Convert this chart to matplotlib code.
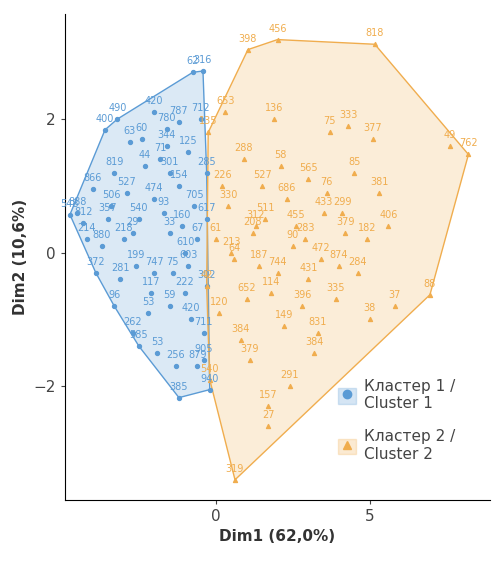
import numpy as np
import matplotlib.pyplot as plt
from matplotlib.lines import Line2D
from matplotlib.patches import Polygon, Patch

# cluster 1 (blue) points
c1_x = [-0.75, -0.42, -3.2, -3.6, -4.74, -1.2, -2.0, -1.6, -2.4, -2.8, -3.3, -4.0, -4.5, -4.2, -3.9,
        -3.3, -2.7, -2.5, -1.2, -1.3, -0.2, -0.6, -0.4, -0.3, -0.3, -0.3, -0.9, -1.5, -2.0, -2.5,
        -3.0, -1.5, -1.0, -2.0, -1.5, -2.2, -1.0, -0.7, -1.8, -3.5, -2.6, -0.8, -1.9, -0.5, -1.1,
        -2.3, -3.7, -4.3, -2.9, -1.4, -0.6, -1.7, -2.1, -3.1, -0.9, -1.2, -2.7, -3.4, -0.4, -1.6]
c1_y = [2.70, 2.72, 2.00, 1.84, 0.57, 1.95, 2.10, 1.85, 1.70, 1.65, 1.20, 0.95, 0.60, 0.20, -0.30,
        -0.80, -1.20, -1.40, -2.17, -1.70, -2.05, -1.70, -1.20, -0.50, 0.50, 1.20, 1.50, 1.20, 0.80, 0.50,
        0.20, 0.30, 0.00, -0.30, -0.80, -0.90, -0.60, 0.70, 1.40, 0.50, -0.20, -1.00, -1.50, 2.00, 0.40,
        1.30, 0.10, 0.45, 0.90, -0.30, 0.20, 0.60, -0.60, -0.40, -0.20, 1.00, 0.30, 0.70, -1.60, 1.60]
c1_lab = ['62', '316', '490', '400', '548', '787', '420', '780', '60', '63', '819', '866', '888', '214', '372',
          '96', '262', '585', '385', '256', '940', '879', '711', '302', '617', '285', '125', '301', '474', '540',
          '218', '33', '610', '747', '59', '53', '222', '705', '71', '357', '199', '420', '53', '712', '160',
          '44', '880', '812', '527', '75', '67', '93', '117', '281', '603', '154', '29', '506', '905', '344']

# cluster 2 (orange) points
c2_x = [2.0, 5.16, 8.2, 6.95, 0.62, 1.04, 1.9, 3.7, 4.3, 7.6, 5.1, 4.5, 5.3, 4.9, 3.9,
        5.8, 5.6, 4.2, 3.3, 1.1, 1.7, -0.2, -0.3, -0.25, 0.3, 0.9, 1.5, 2.3, 3.0, 2.6,
        3.5, 4.0, 1.2, 0.5, 2.0, 2.8, 1.0, 0.4, 3.2, 2.2, 4.6, 3.6, 1.6, 0.8, 2.5,
        0.0, 1.4, 3.0, 4.1, 2.1, 0.6, 1.8, 2.9, 0.2, 1.3, 3.4, 5.0, 0.1, 2.4, 1.7]
c2_y = [3.19, 3.12, 1.47, -0.63, -3.40, 3.04, 2.00, 1.80, 1.90, 1.60, 1.70, 1.20, 0.90, 0.20, -0.70,
        -0.80, 0.40, 0.30, -1.20, -1.60, -2.30, -1.90, -0.50, 1.80, 2.10, 1.40, 1.00, 0.80, 1.10, 0.40,
        0.60, -0.20, 0.30, 0.00, -0.30, -0.80, -0.70, 0.70, -1.50, -1.10, -0.30, 0.90, 0.50, -1.30, 0.10,
        0.20, -0.20, -0.40, 0.60, 1.30, -0.10, -0.60, 0.20, 1.00, 0.40, -0.10, -1.00, -0.90, -2.00, -2.60]
c2_lab = ['456', '818', '762', '88', '319', '398', '136', '75', '333', '49', '377', '85', '381', '182', '335',
          '37', '406', '379', '831', '379', '157', '540', '42', '135', '653', '288', '527', '686', '565', '455',
          '433', '874', '208', '213', '744', '396', '652', '330', '384', '149', '284', '76', '511', '384', '90',
          '61', '187', '431', '299', '58', '64', '114', '283', '226', '312', '472', '38', '120', '291', '27']

blue = "#5B9BD5"
orange = "#F0AD4E"


def hull(px, py):
    pts = sorted(set(zip(px, py)))

    def cross(o, a, b):
        return (a[0] - o[0]) * (b[1] - o[1]) - (a[1] - o[1]) * (b[0] - o[0])
    lower, upper = [], []
    for p in pts:
        while len(lower) >= 2 and cross(lower[-2], lower[-1], p) <= 0:
            lower.pop()
        lower.append(p)
    for p in reversed(pts):
        while len(upper) >= 2 and cross(upper[-2], upper[-1], p) <= 0:
            upper.pop()
        upper.append(p)
    return lower[:-1] + upper[:-1]


fig, ax = plt.subplots(figsize=(5, 5.68), dpi=100)
fig.subplots_adjust(left=0.13, right=0.98, top=0.975, bottom=0.12)

for xs, ys, labs, col, mk in [(c1_x, c1_y, c1_lab, blue, "o"), (c2_x, c2_y, c2_lab, orange, "^")]:
    ax.add_patch(Polygon(hull(xs, ys), closed=True, facecolor=col, alpha=0.22, edgecolor="none"))
    ax.add_patch(Polygon(hull(xs, ys), closed=True, facecolor="none", edgecolor=col, lw=1))
    ax.scatter(xs, ys, s=8, marker=mk, color=col, zorder=3)
    for x, y, t in zip(xs, ys, labs):
        ax.text(x, y + 0.09, t, color=col, fontsize=7, ha="center", va="bottom", zorder=4)

ax.set_xlim(-4.9, 8.9)
ax.set_ylim(-3.7, 3.57)
ax.set_xticks([0, 5])
ax.set_yticks([-2, 0, 2])
ax.tick_params(labelsize=11, colors="#444444", length=3)
for s in ["top", "right"]:
    ax.spines[s].set_visible(False)
ax.set_xlabel("Dim1 (62,0%)", fontsize=11, fontweight="bold", color="#333333")
ax.set_ylabel("Dim2 (10,6%)", fontsize=11, fontweight="bold", color="#333333")

h1 = (Patch(facecolor=blue, alpha=0.25, edgecolor=blue),
      Line2D([], [], marker="o", ls="", color=blue, markersize=6))
h2 = (Patch(facecolor=orange, alpha=0.25, edgecolor=orange),
      Line2D([], [], marker="^", ls="", color=orange, markersize=6))
ax.legend([h1, h2], ["Кластер 1 /\nCluster 1", "Кластер 2 /\nCluster 2"], loc="lower right",
          bbox_to_anchor=(0.95, 0.05), frameon=False, fontsize=11, labelspacing=1.2,
          handlelength=1.2, handleheight=1.2, handletextpad=0.5, labelcolor="#444444")

fig.savefig("out.png", dpi=100)
